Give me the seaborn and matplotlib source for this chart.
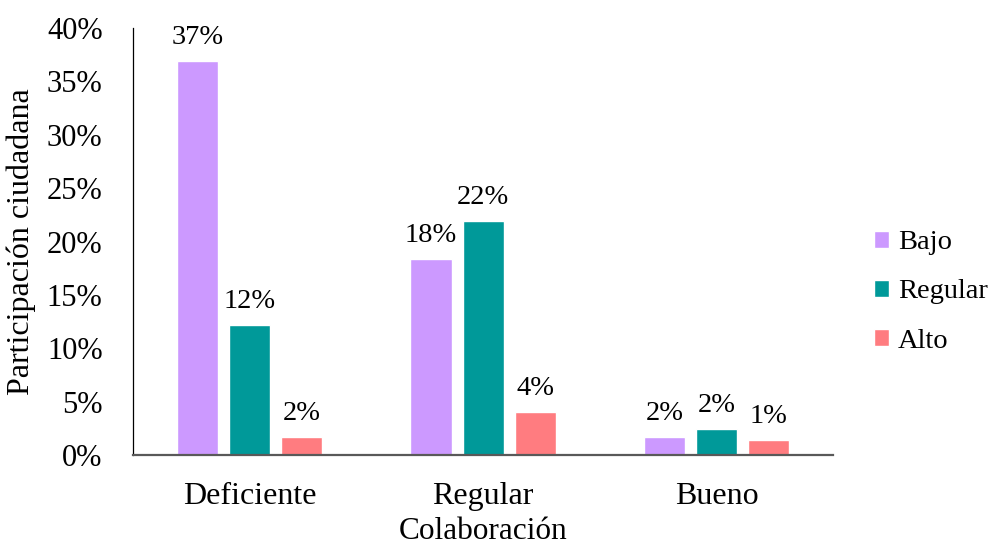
import pandas as pd
import matplotlib.pyplot as plt
import seaborn as sns
from matplotlib.ticker import FuncFormatter

# datos (porcentajes)
categorias = ['Deficiente', 'Regular', 'Bueno']
niveles = ['Bajo', 'Regular', 'Alto']
bajo = [36.9, 18.4, 1.7]
regular = [12.2, 21.9, 2.4]
alto = [1.7, 4.0, 1.4]
colores = ['#CC99FF', '#009999', '#FF7C80']

df = pd.DataFrame({
    'Colaboración': categorias * 3,
    'Nivel': [n for n in niveles for _ in categorias],
    'valor': bajo + regular + alto,
})

sns.set_style('white')
plt.rcParams['font.family'] = ['Liberation Serif', 'DejaVu Serif']
plt.rcParams['text.color'] = 'black'
plt.rcParams['axes.labelcolor'] = 'black'
plt.rcParams['xtick.color'] = 'black'
plt.rcParams['ytick.color'] = 'black'

fig = plt.figure(figsize=(9.93, 5.49), dpi=100)
ax = fig.add_axes([0.134, 0.171, 0.705, 0.778])

sns.barplot(data=df, x='Colaboración', y='valor', hue='Nivel',
            order=categorias, hue_order=niveles, palette=colores,
            width=0.67, gap=0.21, saturation=1, ax=ax)

for cont in ax.containers:
    ax.bar_label(cont, fmt='%.0f%%', padding=8, fontsize=20.5, color='black')

ax.set_ylim(0, 40)
ax.set_xlim(-0.5, 2.5)
ax.set_yticks(range(0, 41, 5))
ax.yaxis.set_major_formatter(FuncFormatter(lambda v, p: f'{v:.0f}%'))
ax.tick_params(axis='y', length=0, pad=22, labelsize=22)
ax.tick_params(axis='x', length=0, pad=19, labelsize=23)
ax.set_xlabel('Colaboración', fontsize=22.5, labelpad=5)
ax.set_ylabel('Participación ciudadana', fontsize=23, labelpad=8)

for s in ['top', 'right']:
    ax.spines[s].set_visible(False)
ax.spines['left'].set_color('black')
ax.spines['left'].set_linewidth(0.9)
ax.spines['bottom'].set_color('#595959')
ax.spines['bottom'].set_linewidth(1.6)

ax.legend(frameon=False, loc='center left', bbox_to_anchor=(1.058, 0.382),
          borderaxespad=0, borderpad=0,
          fontsize=20.5, handlelength=0.55, handleheight=0.55, handletextpad=0.3,
          labelspacing=0.85)

fig.savefig('out.png', dpi=100)
